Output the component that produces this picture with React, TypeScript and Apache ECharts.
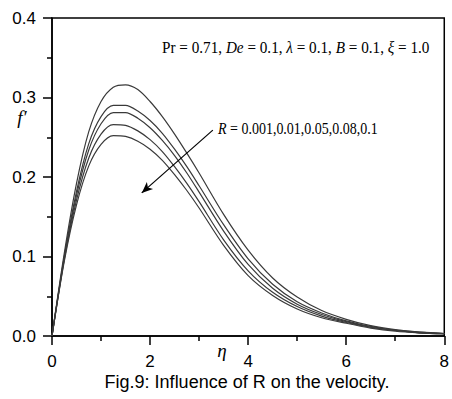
import React, { useEffect, useRef } from 'react';
import * as echarts from 'echarts';

// similarity variable eta (x axis)
const eta = [0, 0.25, 0.5, 0.75, 1, 1.25, 1.5, 1.75, 2, 2.25, 2.5, 2.75, 3, 3.5, 4, 4.5, 5, 5.5, 6, 6.5, 7, 7.5, 8];

// f' for each R value
const fR0001 = [0, 0.104, 0.192, 0.257, 0.295, 0.313, 0.316, 0.31, 0.295, 0.276, 0.254, 0.23, 0.205, 0.153, 0.108, 0.073, 0.049, 0.032, 0.021, 0.013, 0.008, 0.005, 0.003];
const fR001 = [0, 0.1, 0.182, 0.242, 0.276, 0.29, 0.29, 0.283, 0.271, 0.255, 0.235, 0.213, 0.189, 0.14, 0.097, 0.065, 0.043, 0.029, 0.019, 0.012, 0.007, 0.005, 0.003];
const fR005 = [0, 0.098, 0.177, 0.234, 0.267, 0.281, 0.281, 0.274, 0.262, 0.246, 0.227, 0.205, 0.181, 0.132, 0.09, 0.06, 0.04, 0.027, 0.018, 0.011, 0.007, 0.004, 0.003];
const fR008 = [0, 0.096, 0.171, 0.224, 0.254, 0.266, 0.265, 0.258, 0.247, 0.232, 0.213, 0.192, 0.169, 0.121, 0.082, 0.055, 0.037, 0.025, 0.017, 0.011, 0.007, 0.004, 0.003];
const fR01 = [0, 0.094, 0.165, 0.214, 0.241, 0.252, 0.251, 0.245, 0.235, 0.221, 0.203, 0.183, 0.161, 0.114, 0.076, 0.051, 0.034, 0.023, 0.016, 0.01, 0.006, 0.004, 0.003];

const seriesNames = ['R = 0.001', 'R = 0.01', 'R = 0.05', 'R = 0.08', 'R = 0.1'];
const seriesValues = [fR0001, fR001, fR005, fR008, fR01];

const xTicks = [0, 2, 4, 6, 8];
const yTicks = [0, 0.1, 0.2, 0.3, 0.4];

// arrow annotation in data coordinates (eta, f')
const arrowStart = [3.28, 0.259];
const arrowEnd = [1.83, 0.18];

export default function App() {
  const ref = useRef<HTMLDivElement>(null);
  useEffect(() => {
    if (!ref.current) return;
    const chart = echarts.init(ref.current, undefined, { renderer: 'svg' });
    const axisCommon = {
      axisLine: { show: true, lineStyle: { color: '#000', width: 1.5 } },
      axisTick: { show: true, inside: false, length: 9, lineStyle: { color: '#000', width: 1.5 } },
      minorTick: { show: true, splitNumber: 2, length: 5, lineStyle: { color: '#000', width: 1.5 } },
      splitLine: { show: false },
      minorSplitLine: { show: false },
    };
    const series: any[] = seriesValues.map((vals, k) => ({
      name: seriesNames[k],
      type: 'line',
      data: eta.map((x, i) => [x, vals[i]]),
      showSymbol: false,
      smooth: 0.3,
      lineStyle: { color: '#3a3a3a', width: 1.2 },
      silent: true,
    }));
    series[0].markLine = {
      silent: true,
      symbol: ['none', 'arrow'],
      symbolSize: [7, 11],
      label: { show: false },
      lineStyle: { color: '#000', width: 1.2, type: 'solid' },
      data: [[{ coord: arrowStart }, { coord: arrowEnd }]],
    };
    chart.setOption({
      animation: false,
      backgroundColor: '#fff',
      grid: { left: 52, right: 7, top: 18, bottom: 63, show: true, borderColor: '#000', borderWidth: 1.5, backgroundColor: 'transparent' },
      xAxis: {
        type: 'value',
        min: xTicks[0],
        max: xTicks[xTicks.length - 1],
        interval: 2,
        ...axisCommon,
        axisLabel: { color: '#000', fontFamily: 'Liberation Sans', fontSize: 17, margin: 17 },
      },
      yAxis: {
        type: 'value',
        min: yTicks[0],
        max: yTicks[yTicks.length - 1],
        interval: 0.1,
        ...axisCommon,
        axisLabel: { color: '#000', fontFamily: 'Liberation Sans', fontSize: 17, margin: 16, formatter: (v: number) => v.toFixed(1) },
      },
      series,
      graphic: [
        {
          type: 'text', x: 162, y: 47, scaleX: 0.95,
          style: {
            text: 'Pr = 0.71, {i|De} = 0.1, {i|λ} = 0.1, {i|B} = 0.1, {i|ξ} = 1.0',
            fontFamily: 'Liberation Serif', fontSize: 16, fill: '#000', verticalAlign: 'middle', align: 'left',
            rich: { i: { fontStyle: 'italic', fontFamily: 'Liberation Serif', fontSize: 16, fill: '#000' } },
          },
        },
        {
          type: 'text', x: 218, y: 129, scaleX: 0.875,
          style: {
            text: '{i|R} = 0.001,0.01,0.05,0.08,0.1',
            fontFamily: 'Liberation Serif', fontSize: 16, fill: '#000', verticalAlign: 'middle', align: 'left',
            rich: { i: { fontStyle: 'italic', fontFamily: 'Liberation Serif', fontSize: 16, fill: '#000' } },
          },
        },
        {
          type: 'text', x: 22, y: 117,
          style: { text: "f′", fontFamily: 'Liberation Serif', fontStyle: 'italic', fontSize: 19, fill: '#000', align: 'center', verticalAlign: 'middle' },
        },
        {
          type: 'text', x: 222, y: 350,
          style: { text: 'η', fontFamily: 'Liberation Serif', fontStyle: 'italic', fontSize: 19, fill: '#000', align: 'center', verticalAlign: 'middle' },
        },
        {
          type: 'text', x: 247, y: 382,
          style: { text: 'Fig.9: Influence of R on the velocity.', fontFamily: 'Liberation Sans', fontSize: 18, fill: '#000', align: 'center', verticalAlign: 'middle' },
        },
      ],
    });
    return () => chart.dispose();
  }, []);
  return <div ref={ref} style={{ position: 'absolute', left: 0, top: 0, width: 452, height: 399 }} />;
}
